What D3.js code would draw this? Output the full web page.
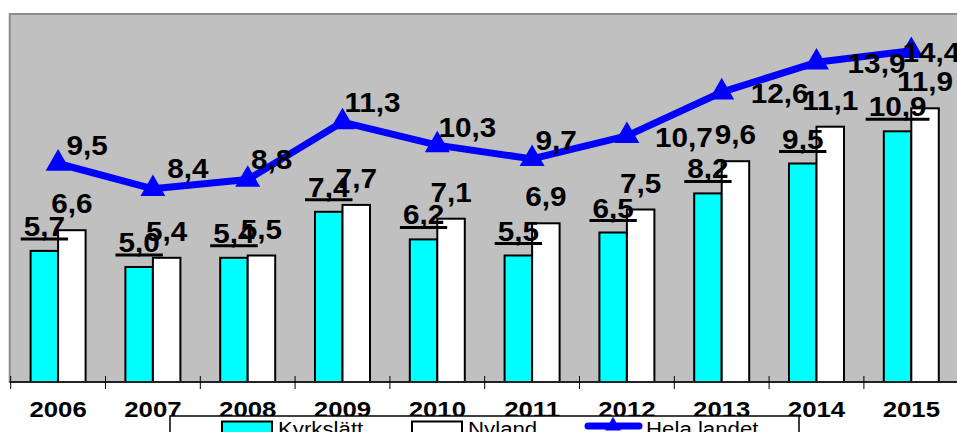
<!DOCTYPE html>
<html>
<head>
<meta charset="utf-8">
<script src="https://cdn.jsdelivr.net/npm/d3@7"></script>
<style>
  body { margin: 0; background: #fff; }
  svg { display: block; font-family: "Liberation Sans", Arial, sans-serif; }
</style>
</head>
<body>
<div id="chart"></div>
<script>
// data
const years = ["2006", "2007", "2008", "2009", "2010", "2011", "2012", "2013", "2014", "2015"];
const kyrkslatt = [5.7, 5.0, 5.4, 7.4, 6.2, 5.5, 6.5, 8.2, 9.5, 10.9];
const nyland = [6.6, 5.4, 5.5, 7.7, 7.1, 6.9, 7.5, 9.6, 11.1, 11.9];
const helaLandet = [9.5, 8.4, 8.8, 11.3, 10.3, 9.7, 10.7, 12.6, 13.9, 14.4];
const seriesNames = ["Kyrkslätt", "Nyland", "Hela landet"];

// label nudges for the line labels (as placed in the original)
const lineLabelOffsets = [[29, -9], [35, -11], [24, -11], [30, -10], [30, -8], [24, -9], [57, 11], [58, 11], [60, 11], [20, 11]];

const width = 957;
const height = 432;
const plot = { left: 10.7, top: 14, right: 958.7, bottom: 382 };
const fmt = v => v.toFixed(1).replace(".", ",");

const svg = d3.select("#chart")
    .append("svg")
    .attr("width", width)
    .attr("height", height);

const x = d3.scaleBand()
    .domain(years)
    .range([plot.left, plot.right]);

const xs = d3.scaleBand()
    .domain(["Kyrkslätt", "Nyland"])
    .range([-27.5, 27.5]);

const y = d3.scaleLinear()
    .domain([0, 16])
    .range([plot.bottom, plot.top]);

const cx = d => x(d) + x.bandwidth() / 2;

// plot area
svg.append("rect")
    .attr("x", plot.left - 1)
    .attr("y", plot.top)
    .attr("width", plot.right - plot.left + 20)
    .attr("height", plot.bottom - plot.top)
    .attr("fill", "#c0c0c0")
    .attr("stroke", "#8c8c8c")
    .attr("stroke-width", 2);

// bars
const bars = [
  { name: "Kyrkslätt", values: kyrkslatt, fill: "#00ffff" },
  { name: "Nyland", values: nyland, fill: "#ffffff" }
];
bars.forEach(s => {
  svg.append("g")
      .selectAll("rect")
      .data(years)
      .join("rect")
      .attr("x", (d, i) => cx(d) + xs(s.name))
      .attr("y", (d, i) => y(s.values[i]))
      .attr("width", xs.bandwidth())
      .attr("height", (d, i) => y(0) - y(s.values[i]))
      .attr("fill", s.fill)
      .attr("stroke", "#000")
      .attr("stroke-width", 2);
});

// axis
const axis = svg.append("g")
    .attr("transform", `translate(0,${plot.bottom})`)
    .call(d3.axisBottom(x).tickSize(0));
axis.select(".domain").remove();
axis.selectAll("text")
    .attr("y", 35)
    .attr("dy", null)
    .attr("transform", "scale(1.12,1)")
    .attr("font-size", 23)
    .attr("font-weight", "bold")
    .attr("fill", "#000");

svg.append("line")
    .attr("x1", plot.left - 1).attr("x2", width)
    .attr("y1", plot.bottom).attr("y2", plot.bottom)
    .attr("stroke", "#222").attr("stroke-width", 2);

svg.append("g")
    .selectAll("line")
    .data(years)
    .join("line")
    .attr("x1", d => x(d)).attr("x2", d => x(d))
    .attr("y1", plot.bottom - 6).attr("y2", plot.bottom + 7)
    .attr("stroke", "#000").attr("stroke-width", 1);

// line series
const line = d3.line()
    .x((d, i) => cx(years[i]))
    .y(d => y(d));

svg.append("path")
    .datum(helaLandet)
    .attr("d", line)
    .attr("fill", "none")
    .attr("stroke", "#0000ff")
    .attr("stroke-width", 7)
    .attr("stroke-linejoin", "round");

const tri = d3.symbol().type(d3.symbolTriangle).size(270);
svg.append("g")
    .selectAll("path")
    .data(helaLandet)
    .join("path")
    .attr("d", tri)
    .attr("transform", (d, i) => `translate(${cx(years[i])},${y(d)})`)
    .attr("fill", "#0000ff");

// labels
const label = (g, tx, ty, txt) => g.append("text")
    .attr("transform", `translate(${tx},${ty}) scale(1.1,1)`)
    .attr("text-anchor", "middle")
    .attr("font-size", 27)
    .attr("font-weight", "bold")
    .attr("fill", "#000")
    .text(txt);

const labels = svg.append("g");

kyrkslatt.forEach((v, i) => {
  const bx = cx(years[i]) + xs("Kyrkslätt") + xs.bandwidth() / 2;
  const uy = y(v) - 12;
  const t = label(labels, bx, uy - 3, fmt(v));
  const w = t.node().getBBox().width * 1.1;
  labels.append("line")
      .attr("x1", bx - w / 2 - 3).attr("x2", bx + w / 2 + 3)
      .attr("y1", uy).attr("y2", uy)
      .attr("stroke", "#000").attr("stroke-width", 3);
});

nyland.forEach((v, i) => {
  const bx = cx(years[i]) + xs("Nyland") + xs.bandwidth() / 2;
  label(labels, bx, y(v) - 17, fmt(v));
});

helaLandet.forEach((v, i) => {
  const [dx, dy] = lineLabelOffsets[i];
  label(labels, cx(years[i]) + dx, y(v) + dy, fmt(v));
});

// legend
const legend = svg.append("g");
legend.append("rect")
    .attr("x", 170).attr("y", 416)
    .attr("width", 629).attr("height", 30)
    .attr("fill", "#fff")
    .attr("stroke", "#000")
    .attr("stroke-width", 1.5);

const legendX = [222, 412, 585];
const legendFill = ["#00ffff", "#ffffff"];
seriesNames.forEach((name, i) => {
  const lx = legendX[i];
  if (i < 2) {
    legend.append("rect")
        .attr("x", lx).attr("y", 421.5)
        .attr("width", 50).attr("height", 13)
        .attr("fill", legendFill[i])
        .attr("stroke", "#000").attr("stroke-width", 2);
  } else {
    legend.append("line")
        .attr("x1", lx + 3).attr("x2", lx + 54)
        .attr("y1", 426).attr("y2", 426)
        .attr("stroke", "#0000ff").attr("stroke-width", 7)
        .attr("stroke-linecap", "round");
    legend.append("path")
        .attr("d", d3.symbol().type(d3.symbolTriangle).size(110))
        .attr("transform", `translate(${lx + 28},426)`)
        .attr("fill", "#0000ff");
  }
  legend.append("text")
      .attr("transform", `translate(${lx + (i < 2 ? 56 : 61)},436) scale(1.06,1)`)
      .attr("font-size", 21)
      .attr("fill", "#000")
      .text(name);
});
</script>
</body>
</html>
